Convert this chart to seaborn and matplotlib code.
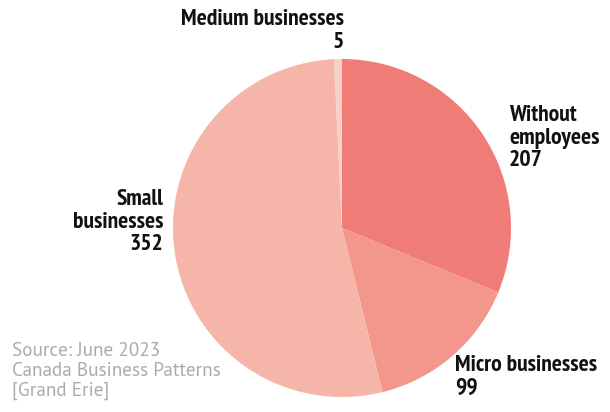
import matplotlib
matplotlib.use("Agg")
import matplotlib.pyplot as plt
import seaborn as sns

sns.set_theme(style="white")
plt.rcParams['font.family'] = ['PT Sans Narrow', 'DejaVu Sans']

categories = ["Without employees", "Micro businesses", "Small businesses", "Medium businesses"]
values = [207, 99, 352, 5]
colors = ["#F07C77", "#F3968B", "#F5B5A9", "#F9D0C8"]
label_text = ["Without\nemployees\n207", "Micro businesses\n99", "Small\nbusinesses\n352", "Medium businesses\n5"]

W, H = 610, 412
fig = plt.figure(figsize=(W / 100, H / 100), dpi=100)
ax = fig.add_axes([0, 0, 1, 1])

ax.pie(values, colors=colors, startangle=90, counterclock=False,
       center=(342, H - 228), radius=169, frame=True,
       wedgeprops=dict(linewidth=0))
ax.set_xlim(0, W)
ax.set_ylim(0, H)
ax.set_aspect("equal")
ax.axis("off")

lab_kw = dict(fontsize=17, fontweight="bold", color="#111111", va="top", linespacing=1.1)
ax.text(509, H - 105, label_text[0], ha="left", **lab_kw)
ax.text(455, H - 355, label_text[1], ha="left", **lab_kw)
ax.text(163, H - 189, label_text[2], ha="right", multialignment="right", **lab_kw)
ax.text(344, H - 9, label_text[3], ha="right", multialignment="right", **lab_kw)

ax.text(12, H - 342, "Source: June 2023\nCanada Business Patterns\n[Grand Erie]",
        ha="left", va="top", fontsize=13.8, color="#ABABAB", linespacing=1.15,
        family=["PT Sans", "DejaVu Sans"])

fig.savefig("out.png", dpi=100)
